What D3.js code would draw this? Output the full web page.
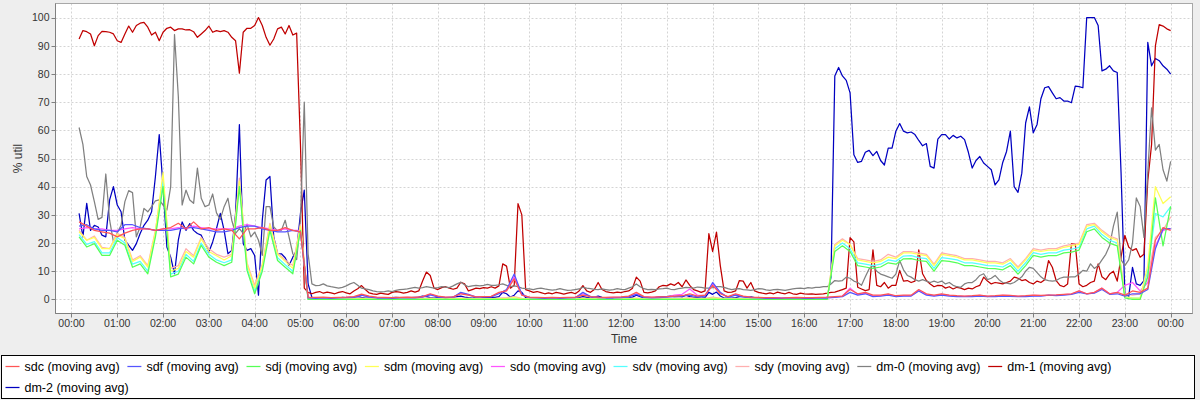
<!DOCTYPE html>
<html>
<head>
<meta charset="utf-8">
<script src="https://cdn.jsdelivr.net/npm/d3@7"></script>
<style>
  body { margin: 0; background: #eeeeee; }
  svg { display: block; }
</style>
</head>
<body>
<svg id="chart" width="1200" height="400"></svg>
<script>
"use strict";

// series names in legend order, JFreeChart default palette
var seriesNames = ["sdc", "sdf", "sdj", "sdm", "sdo", "sdv", "sdy", "dm-0", "dm-1", "dm-2"];
var seriesColors = ["#ff5555", "#5555ff", "#55ff55", "#ffff55", "#ff55ff", "#55ffff", "#ffafaf", "#808080", "#c00000", "#0000c0"];

// first sample at 00:10, sd* every 10 minutes, dm-* every 5 minutes
var START_MINUTE = 10;

var sdc = [
  27.5, 26, 24.5, 24, 23.5, 22.2, 23.5, 24.5, 25, 25, 24.5, 25, 25.5, 27, 25, 27.5, 25, 25.5, 24.5, 25,
  24.5, 21.5, 25, 25, 25.5, 24.5, 24.5, 25.5, 24.5, 24,
  0.8, 0.7, 0.8, 0.6, 0.7, 0.8, 1.0, 1.9, 1.2, 0.8,
  0.7, 0.6, 0.7, 0.8, 0.7, 1.0, 2.0, 1.2, 0.8, 0.9,
  2.0, 1.5, 0.9, 1.0, 1.1, 2.5, 3.0, 7.3, 1.5, 0.8,
  0.7, 0.6, 0.7, 0.6, 0.7, 0.8, 1.5, 1.0, 0.8, 0.7,
  0.8, 0.9, 1.2, 2.5, 1.0, 0.8, 0.9, 1.0, 1.2, 1.3,
  2.0, 1.2, 1.5, 5.0, 2.0, 1.0, 2.0, 1.2, 0.8, 0.7,
  0.6, 0.6, 0.5, 0.6, 0.7, 0.6, 0.6, 0.7,
  0.8, 1.0, 1.2, 3.5, 2.0, 2.5, 1.5, 1.5, 2.0, 1.3,
  1.5, 1.5, 3.5, 2.0, 1.5, 2.0, 1.5, 1.3, 1.2, 1.3,
  1.5, 1.2, 1.3, 1.5, 1.4, 1.2, 1.3, 1.5, 1.4, 1.5,
  1.6, 1.8, 2.0, 3.0, 2.0, 2.5, 4.0, 2.0, 2.5, 1.5,
  3.0, 2.5, 4.0, 21, 25.5, 24.5
];
var sdf = [
  26, 26.5, 25, 24.5, 24.5, 24, 26.5, 26.5, 25.5, 25, 24.5, 24.5, 24.5, 25, 25.5, 25.5, 25, 24.5, 24, 24,
  24.5, 25.5, 26, 26, 25, 24.5, 24, 24, 24.5, 24,
  0.5, 0.4, 0.5, 0.4, 0.5, 0.6, 0.7, 1.5, 0.8, 0.5,
  0.5, 0.4, 0.5, 0.6, 0.5, 0.8, 1.6, 0.9, 0.6, 0.8,
  2.5, 1.8, 0.8, 0.9, 1.0, 2.0, 3.5, 9.0, 1.8, 0.6,
  0.5, 0.4, 0.5, 0.4, 0.5, 0.6, 2.5, 1.0, 0.6, 0.5,
  0.5, 0.6, 0.9, 1.8, 0.7, 0.5, 0.6, 0.8, 1.0, 1.2,
  1.5, 0.9, 1.2, 6.0, 2.5, 0.7, 1.5, 0.9, 0.6, 0.5,
  0.4, 0.4, 0.4, 0.5, 0.5, 0.4, 0.4, 0.5,
  0.5, 0.7, 1.0, 2.5, 1.5, 2.0, 1.0, 1.2, 1.5, 1.0,
  1.2, 1.2, 3.0, 1.5, 1.2, 1.5, 1.2, 1.0, 1.0, 1.0,
  1.2, 1.0, 1.0, 1.2, 1.1, 1.0, 1.0, 1.2, 1.2, 1.5,
  1.3, 1.5, 1.8, 2.5, 2.0, 2.2, 3.5, 1.8, 2.0, 1.2,
  2.0, 2.0, 3.5, 18, 25, 25.1
];
var sdj = [
  22.2, 18.6, 19.8, 15.6, 15.6, 21, 19.2, 11.4, 12.6, 9.1, 22.2, 40, 8, 9, 15, 12.6, 19.2, 15, 13.2, 12,
  13.2, 40, 10.3, 2, 10, 24.5, 13.8, 11.4, 9.1, 24.5,
  0, 0, 0, 0, 0, 0, 0, 0, 0, 0,
  0, 0, 0, 0, 0, 0, 0, 0, 0, 0,
  0, 0, 0, 0, 0, 0, 0, 0, 0, 0,
  0, 0, 0, 0, 0, 0, 0, 0, 0, 0,
  0, 0, 0, 0, 0, 0, 0, 0, 0, 0,
  0, 0, 0, 0, 0, 0, 0, 0, 0, 0,
  0, 0, 0, 0, 0, 0, 0, 0,
  0, 17, 19, 17, 12, 11.5, 11, 11.5, 13, 12.5,
  14.4, 14.5, 13.8, 13.5, 10, 13.8, 13.5, 13, 12, 12,
  11.5, 11, 10.9, 10.5, 12, 9, 12, 15.6, 15, 15.5,
  15.5, 16.5, 16.8, 17.5, 24, 25, 22, 20, 19, 0.5,
  0, 0, 8, 36, 19, 33
];
var sdm = [
  24, 21, 22, 18, 18, 23, 21.5, 13.5, 15, 11.5, 24, 45, 10, 11, 17, 15, 21.5, 17, 15.5, 14,
  15.5, 42, 12.5, 4, 12, 26.5, 16, 13.5, 11, 26,
  0.2, 0.2, 0.2, 0.2, 0.2, 0.2, 0.2, 0.3, 0.2, 0.2,
  0.2, 0.2, 0.2, 0.2, 0.2, 0.2, 0.3, 0.2, 0.2, 0.2,
  0.3, 0.2, 0.2, 0.2, 0.2, 0.3, 0.4, 0.6, 0.2, 0.2,
  0.2, 0.2, 0.2, 0.2, 0.2, 0.2, 0.3, 0.2, 0.2, 0.2,
  0.2, 0.2, 0.2, 0.3, 0.2, 0.2, 0.2, 0.2, 0.2, 0.2,
  0.3, 0.2, 0.2, 0.5, 0.3, 0.2, 0.2, 0.2, 0.2, 0.2,
  0.2, 0.2, 0.2, 0.2, 0.2, 0.2, 0.2, 0.2,
  0, 19, 21, 19.5, 14, 13.5, 13, 13.5, 15, 14.5,
  16.5, 16.5, 16, 15.5, 12, 16, 15.5, 15, 14, 14,
  13.5, 13, 13, 12.5, 14, 11, 14, 17.5, 17, 17.5,
  17.5, 18.5, 19, 19.5, 26, 26.5, 24, 22, 21, 1,
  0.5, 0.5, 12, 40, 34, 36.4
];
var sdo = [
  25, 25.5, 25, 25, 24.5, 24.5, 25, 25.5, 25, 25, 24.5, 25, 25, 25.5, 25, 26, 25.5, 25, 25, 25,
  25, 26, 26.5, 26, 25.5, 25, 24.5, 25, 24.5, 24.5,
  0.6, 0.5, 0.6, 0.5, 0.6, 0.7, 0.9, 1.5, 1.0, 0.6,
  0.6, 0.5, 0.6, 0.7, 0.6, 0.9, 1.8, 1.0, 0.7, 0.8,
  2.2, 1.6, 0.9, 1.0, 1.0, 2.2, 3.2, 8.0, 1.6, 0.7,
  0.6, 0.5, 0.6, 0.5, 0.6, 0.7, 2.0, 1.0, 0.7, 0.6,
  0.7, 0.8, 1.0, 2.0, 0.9, 0.7, 0.8, 0.9, 1.5, 1.8,
  3.7, 1.5, 1.3, 5.5, 2.2, 0.8, 1.8, 1.0, 0.7, 0.6,
  0.5, 0.5, 0.5, 0.6, 0.6, 0.5, 0.5, 0.6,
  0.6, 0.8, 1.2, 4.0, 1.8, 2.2, 1.2, 1.3, 1.8, 1.2,
  1.3, 1.3, 3.2, 1.8, 1.3, 1.8, 1.4, 1.2, 1.1, 1.2,
  1.4, 1.1, 1.2, 1.4, 1.3, 1.1, 1.2, 1.4, 1.3, 1.4,
  1.5, 1.7, 1.9, 3.0, 2.0, 2.4, 4.0, 2.0, 2.5, 5.0,
  6.0, 3.0, 6.0, 19, 24.5, 25
];
var sdv = [
  23, 19.5, 20.5, 16.5, 16.5, 22, 20, 12.5, 13.5, 10, 23, 42, 9, 10, 16, 13.5, 20, 16, 14, 13,
  14, 41, 11.2, 3, 11, 25.5, 14.8, 12.3, 10, 25,
  0.1, 0.1, 0.1, 0.1, 0.1, 0.1, 0.1, 0.2, 0.1, 0.1,
  0.1, 0.1, 0.1, 0.1, 0.1, 0.1, 0.2, 0.1, 0.1, 0.1,
  0.2, 0.1, 0.1, 0.1, 0.1, 0.2, 0.3, 0.5, 0.1, 0.1,
  0.1, 0.1, 0.1, 0.1, 0.1, 0.1, 0.2, 0.1, 0.1, 0.1,
  0.1, 0.1, 0.1, 0.2, 0.1, 0.1, 0.1, 0.1, 0.1, 0.1,
  0.2, 0.1, 0.1, 0.4, 0.2, 0.1, 0.1, 0.1, 0.1, 0.1,
  0.1, 0.1, 0.1, 0.1, 0.1, 0.1, 0.1, 0.1,
  0, 18, 20, 18, 13, 12.5, 12, 12.5, 14, 13.5,
  15.4, 15.5, 14.8, 14.5, 11, 14.8, 14.5, 14, 13, 13,
  12.5, 12, 11.9, 11.5, 13, 10, 13, 16.6, 16, 16.5,
  16.5, 17.5, 17.8, 18.5, 25, 26, 23, 21, 20, 1,
  0.5, 0.5, 10, 30.5, 29.3, 32.9
];
var sdy = [
  24.5, 21, 22.5, 18.5, 18, 23.5, 22, 14, 15.5, 12, 24.5, 43, 11, 12, 18, 15.5, 22, 18, 16, 15,
  16, 43, 13, 5, 12.5, 27, 16.5, 14, 12, 26.5,
  0.3, 0.3, 0.3, 0.3, 0.3, 0.3, 0.4, 0.5, 0.3, 0.3,
  0.3, 0.3, 0.3, 0.3, 0.3, 0.4, 0.5, 0.3, 0.3, 0.3,
  0.5, 0.4, 0.3, 0.3, 0.3, 0.5, 0.6, 1.0, 0.4, 0.3,
  0.3, 0.3, 0.3, 0.3, 0.3, 0.3, 0.5, 0.3, 0.3, 0.3,
  0.3, 0.3, 0.4, 0.5, 0.3, 0.3, 0.3, 0.3, 0.4, 0.4,
  0.6, 0.4, 0.4, 0.8, 0.5, 0.3, 0.4, 0.3, 0.3, 0.3,
  0.3, 0.3, 0.3, 0.3, 0.3, 0.3, 0.3, 0.3,
  0.2, 19.5, 21.5, 19.5, 14.5, 14, 13.5, 14, 16, 15,
  17, 17, 16.5, 16, 12.5, 16.5, 16, 15.5, 14.5, 14.5,
  14, 13.5, 13.5, 13, 14.5, 11.5, 14.5, 18, 17.5, 18,
  18, 19, 19.5, 20, 26.5, 27, 24.5, 22.5, 21.5, 2,
  1.5, 2, 8, 22, 24.5, 29.3
];

var dm0 = [
  61, 55, 43.6, 40.6, 34.7, 28.4, 29.1, 44.5, 28.1, 20.4,
  23.6, 26.3, 34.7, 38.6, 37.9, 22.2, 25.7, 32.3, 31.1, 32.9,
  35, 35.3, 33.5, 31.7, 40, 94, 72, 33.5, 38.8, 35.3,
  34.1, 46.6, 35.9, 32.9, 33.5, 37.4, 30.7, 28.4, 32.9, 35.9,
  28.1, 23.4, 25.1, 23.4, 26.7, 22.2, 23.9, 21, 15.6, 32.9,
  32.9, 25.7, 24.3, 24.5, 28.1, 22.2, 16.2, 14.1, 28.1, 70,
  16.2, 5.5, 4.9,
  5.0, 5.5, 4.8, 4.5, 4.3, 4.0, 4.3, 4.8, 5.5, 6.0,
  5.0, 4.0, 3.7, 3.5, 3.0, 2.8, 2.7, 2.8, 3.0, 2.8,
  3.2, 3.5, 3.6, 3.7, 4.0, 4.3, 4.0, 4.2, 4.5, 4.3,
  4.0, 4.2, 4.5, 4.4, 4.2, 4.8, 5.5, 6.1, 5.2, 4.5,
  4.8, 5.0, 4.8, 5.0, 5.3, 5.0, 5.0, 5.2, 5.5, 5.0,
  4.5, 4.8, 4.5, 4.0, 3.8, 3.7, 3.5, 3.8, 4.0, 3.7,
  3.5, 3.3, 3.5, 3.8, 3.5, 3.2, 3.3, 3.5, 3.7, 4.3,
  4.0, 3.8, 3.6, 3.5, 3.7, 3.5, 3.3, 3.5, 3.8, 3.6,
  3.5, 4.0, 4.5, 5.5, 4.5, 3.8, 3.5, 3.6, 3.5, 3.7,
  3.8, 4.0, 3.6, 3.5, 3.8, 4.0, 4.3, 4.2, 4.0, 4.4,
  4.3, 4.0, 4.0, 4.2, 4.5, 4.5, 4.3, 3.8, 3.5, 3.7,
  3.8, 3.5, 3.4, 3.2, 3.5, 3.8, 3.7, 3.4, 3.2, 3.5,
  3.6, 3.4, 3.2, 3.5, 3.7, 3.9, 4.0, 3.8, 4.2, 4.0,
  4.3, 4.3, 4.5,
  4.5, 5.5, 6.7, 6.5, 6.7, 7.9, 7.5, 6.5, 6.0, 5.0,
  8.0, 10.9, 12, 10, 9, 8.5, 8, 7.5, 9, 13.8,
  10.5, 8.5, 7.9, 7, 6.5, 7, 6.5, 6.0, 6.5, 6.0,
  6.5, 5.5, 6, 5.0, 4.5, 4.3, 5.5, 6.0, 6.0, 7.0,
  8.5, 9.1, 7.0, 7.5, 8.5, 7.0, 6.0, 5.8, 5.5, 6.0,
  7.0, 8.0, 10, 11.4, 11, 9.5, 8, 7, 6.7, 6.5,
  6.7, 7.5, 7.9, 7.9, 8, 8, 9, 10.3, 10, 12.6,
  11, 12, 14, 16, 19, 26, 31, 14, 12, 14,
  20, 36, 33, 22, 45, 68, 53, 55, 46, 42, 49
];
var dm1 = [
  92.4, 95.4, 95, 94.2, 90, 93.6, 95.1, 95, 94.8, 94.2,
  91.8, 91.2, 94.2, 97, 94.8, 97.2, 98, 98.3, 96.6, 93.8,
  94.8, 91.8, 94.8, 96.2, 96.6, 95.4, 96, 96, 95.6, 95.7,
  95, 93, 94.2, 95.4, 97, 94.8, 95.4, 95, 95.4, 94.8,
  93, 91.8, 80.3, 94.8, 96.2, 96.2, 97.2, 100, 97.2, 93,
  90.2, 92.4, 96, 96.6, 94.2, 97.2, 93.8, 94.5, 55,
  4, 2.5, 2.0, 2.5, 2.8, 2.2, 2.6, 2.3, 2.0, 2.5,
  2.8, 2.3, 2.0, 3.0, 3.8, 4.9, 3.5, 2.3, 2.0, 1.8,
  2.2, 2.0, 1.8, 2.5, 2.8, 2.6, 2.2, 2.5, 3.0, 2.6,
  3.0, 6.5, 9.7, 8.5, 4.0, 3.5, 4.2, 4.5, 4.0, 3.6,
  4.0, 6.1, 5.5, 3.0, 3.5, 4.0, 3.8, 4.2, 4.0, 4.5,
  4.0, 4.8, 12.6, 11.8, 4.0, 5.0, 34, 30, 3.5, 3.0,
  2.5, 2.8, 2.4, 2.0, 2.3, 2.0, 2.5, 2.2, 1.9, 2.2,
  2.5, 2.0, 3.0, 4.9, 3.0, 2.5, 3.5, 6.0, 3.5, 2.8,
  2.5, 2.3, 2.6, 2.4, 2.8, 3.0, 4.0, 7.9, 6.5, 2.5,
  2.3, 2.6, 3.0, 4.5, 5.0, 4.8, 5.5, 5.0, 6.0, 4.5,
  6.9, 5.0, 3.5, 3.0, 2.5, 3.0, 23.3, 17, 23.9, 12,
  3.0, 2.5, 2.6, 3.0, 6.7, 6.5, 4.0, 6.0, 3.0, 2.5,
  2.2, 2.0, 2.3, 2.0, 2.6, 2.2, 2.0, 2.5, 2.0, 1.8,
  2.2, 2.0, 1.9, 2.0, 1.8, 1.9, 2.0, 2.2, 2.5, 2.6,
  3.0, 3.5, 4.0, 21.9, 20.4, 4.3, 3.7, 3.1, 3.5, 17.6,
  5, 4.5, 6, 4, 5, 5, 10.3, 6.5, 6.7, 6.0,
  6.5, 17.6, 9.1, 6.7, 5.5, 4.5, 5.0, 4.9, 4.0, 4.5,
  3.7, 4.3, 4.0, 3.5, 4.0, 3.7, 4.5, 5.0, 7.9, 6.5,
  5.5, 6.0, 5.8, 5.5, 6.0, 6.5, 7.9, 7.5, 6.7, 7.0,
  6.0, 5.5, 6.5, 6.0, 7.0, 13.8, 11.4, 6.7, 5.0, 4.5,
  5.5, 19.8, 19.8, 5.5, 4.5, 5.0, 6.0, 6.5, 12.6, 8,
  7, 9, 10, 6.5, 15, 22.7, 18.6, 17.4, 18, 15,
  16, 42, 55, 90, 97.5, 97, 96, 95.4
];
var dm2 = [
  30.5, 22.2, 34.1, 24.5, 26.3, 25.7, 22.8, 22.2, 35.3, 40,
  33.5, 31.1, 21, 19.2, 17.4, 19.8, 23.4, 26.3, 28.1, 31.1,
  43.6, 58.5, 40, 18.6, 15, 9.1, 21, 27.5, 24.5, 26.9,
  24.5, 23.4, 22.8, 19.8, 16.8, 20.4, 25.1, 30.5, 24.5, 16.2,
  17.4, 30.5, 62, 19.8, 17.4, 18, 15.6, 1.5, 28.1, 42.4,
  43.6, 22.2, 16.2, 16.2, 14.8, 12, 15, 17.4, 30.5, 38.8,
  5.5, 0.7,
  0.5, 0.6, 0.5, 0.4, 0.6, 0.5, 0.5, 0.7, 0.6, 0.5,
  0.8, 1.0, 0.7, 0.5, 0.5, 0.4, 0.5, 0.6, 0.5, 0.5,
  0.6, 0.7, 0.6, 0.5, 0.5, 0.6, 0.7, 0.8, 1.2, 1.0,
  0.6, 0.5, 0.6, 0.7, 0.6, 0.5, 0.8, 1.0, 1.2, 0.8,
  0.6, 0.5, 0.6, 0.5, 0.7, 0.6, 0.8, 0.7, 1.0, 2.5,
  2.0, 0.8, 1.5, 3.0, 2.5, 0.6, 0.5, 0.4, 0.5, 0.4,
  0.4, 0.5, 0.4, 0.5, 0.4, 0.4, 0.5, 0.5, 0.4, 0.6,
  1.0, 0.7, 0.5, 0.8, 1.2, 0.7, 0.5, 0.5, 0.4, 0.5,
  0.5, 0.5, 0.6, 0.8, 1.5, 1.0, 0.5, 0.5, 0.6, 0.7,
  0.9, 1.0, 1.0, 1.2, 1.0, 1.1, 0.9, 1.5, 1.0, 0.7,
  0.6, 0.5, 0.6, 2.5, 1.8, 2.6, 1.2, 0.5, 0.5, 0.5,
  0.6, 1.0, 1.0, 0.7, 0.9, 0.6, 0.5, 0.4, 0.4, 0.5,
  0.4, 0.5, 0.4, 0.4, 0.5, 0.4, 0.4, 0.5, 0.4, 0.4,
  0.5, 0.4, 0.4, 0.5, 0.5,
  8,
  79.3, 82.3, 79.3, 77.7, 73.3, 51.3, 48.6, 49, 52.2, 52.9,
  51, 52.5, 49.3, 47.7, 53.7, 53.7, 59.7, 62.4, 59.7, 59.1,
  59.4, 58.5, 56.4, 54.5, 55.3, 47.2, 46.6, 56.9, 58.5, 58.5,
  56.9, 58.2, 57.3, 57.9, 56.7, 52.2, 46.6, 49.3, 50.7, 48.4,
  47.2, 46, 40.6, 42.4, 48.6, 52.5, 59.7, 40, 38, 44.8,
  62.6, 68.3, 59.1, 62.1, 71.2, 75.1, 75.5, 73.3, 71.2, 71.6,
  70.4, 70.4, 69.8, 75.7, 75.5, 75.1, 100, 100, 100, 97.2,
  81.1, 81.7, 82.9, 81.1, 80.5, 45, 2, 1, 11.4, 5.5,
  5, 6.7, 91.2, 82.9, 85.5, 84.7, 82.9, 81.7, 79.9
];

var seriesValues = [sdc, sdf, sdj, sdm, sdo, sdv, sdy, dm0, dm1, dm2];
var seriesStepMinutes = [10, 10, 10, 10, 10, 10, 10, 5, 5, 5];
var yTickValues = [0, 10, 20, 30, 40, 50, 60, 70, 80, 90, 100];

var WIDTH = 1200;
var PLOT = { left: 55.5, right: 1192.5, top: 3.5, bottom: 313.5 };
var DAY = Date.UTC(2000, 0, 1);
var MINUTE = 60000;

var svg = d3.select("#chart");

svg.append("rect").attr("width", WIDTH).attr("height", 400).attr("fill", "#eeeeee");

var x = d3.scaleUtc()
  .domain([new Date(DAY - 20.9 * MINUTE), new Date(DAY + 1468.6 * MINUTE)])
  .range([PLOT.left, PLOT.right]);
var y = d3.scaleLinear().domain([-5, 105]).range([PLOT.bottom, PLOT.top]);

var hourTicks = d3.utcHour.range(new Date(DAY), new Date(DAY + 1441 * MINUTE));
var timeFormat = d3.utcFormat("%H:%M");

svg.append("rect")
  .attr("x", PLOT.left).attr("y", PLOT.top)
  .attr("width", PLOT.right - PLOT.left).attr("height", PLOT.bottom - PLOT.top)
  .attr("fill", "#ffffff");

svg.append("clipPath").attr("id", "plot-clip")
  .append("rect")
  .attr("x", PLOT.left).attr("y", PLOT.top)
  .attr("width", PLOT.right - PLOT.left).attr("height", PLOT.bottom - PLOT.top);

// grid
var grid = svg.append("g").attr("stroke", "#d4d4d4").attr("stroke-dasharray", "2,2").attr("stroke-width", 1);
grid.selectAll("line.h").data(yTickValues).enter().append("line")
  .attr("x1", PLOT.left).attr("x2", PLOT.right)
  .attr("y1", function (d) { return Math.round(y(d)) + 0.5; })
  .attr("y2", function (d) { return Math.round(y(d)) + 0.5; });
grid.selectAll("line.v").data(hourTicks).enter().append("line")
  .attr("y1", PLOT.top).attr("y2", PLOT.bottom)
  .attr("x1", function (d) { return Math.round(x(d)) + 0.5; })
  .attr("x2", function (d) { return Math.round(x(d)) + 0.5; });

// series, drawn in reverse so the first series ends up on top
var line = d3.line()
  .x(function (d) { return x(d[0]); })
  .y(function (d) { return y(d[1]); });

var lines = svg.append("g").attr("clip-path", "url(#plot-clip)");
d3.range(seriesNames.length - 1, -1, -1).forEach(function (i) {
  var step = seriesStepMinutes[i];
  var points = seriesValues[i].map(function (v, k) {
    return [new Date(DAY + (START_MINUTE + k * step) * MINUTE), v];
  });
  lines.append("path")
    .datum(points)
    .attr("fill", "none")
    .attr("stroke", seriesColors[i])
    .attr("stroke-width", 1.25)
    .attr("stroke-linejoin", "round")
    .attr("d", line);
});

// plot outline
svg.append("rect")
  .attr("x", PLOT.left).attr("y", PLOT.top)
  .attr("width", PLOT.right - PLOT.left).attr("height", PLOT.bottom - PLOT.top)
  .attr("fill", "none").attr("stroke", "#a8a8a8");
svg.append("line").attr("x1", PLOT.left).attr("x2", PLOT.left)
  .attr("y1", PLOT.top).attr("y2", PLOT.bottom).attr("stroke", "#808080");
svg.append("line").attr("x1", PLOT.left).attr("x2", PLOT.right)
  .attr("y1", PLOT.bottom).attr("y2", PLOT.bottom).attr("stroke", "#808080");

// axes
var tickFont = "'Liberation Sans', Arial, sans-serif";
var yAxis = svg.append("g");
yAxis.selectAll("line").data(yTickValues).enter().append("line")
  .attr("x1", PLOT.left - 4).attr("x2", PLOT.left)
  .attr("y1", function (d) { return Math.round(y(d)) + 0.5; })
  .attr("y2", function (d) { return Math.round(y(d)) + 0.5; })
  .attr("stroke", "#808080");
yAxis.selectAll("text").data(yTickValues).enter().append("text")
  .attr("x", PLOT.left - 6)
  .attr("y", function (d) { return y(d) + 3.8; })
  .attr("text-anchor", "end")
  .attr("font-family", tickFont).attr("font-size", "10.5px").attr("fill", "#333333")
  .text(function (d) { return d; });

var xAxis = svg.append("g");
xAxis.selectAll("line").data(hourTicks).enter().append("line")
  .attr("x1", function (d) { return Math.round(x(d)) + 0.5; })
  .attr("x2", function (d) { return Math.round(x(d)) + 0.5; })
  .attr("y1", PLOT.bottom).attr("y2", PLOT.bottom + 4)
  .attr("stroke", "#808080");
xAxis.selectAll("text").data(hourTicks).enter().append("text")
  .attr("x", function (d) { return x(d); })
  .attr("y", PLOT.bottom + 13.5)
  .attr("text-anchor", "middle")
  .attr("font-family", tickFont).attr("font-size", "10.5px").attr("fill", "#333333")
  .text(function (d) { return timeFormat(d); });

svg.append("text")
  .attr("x", (PLOT.left + PLOT.right) / 2).attr("y", 343)
  .attr("text-anchor", "middle")
  .attr("font-family", tickFont).attr("font-size", "12px").attr("fill", "#333333")
  .text("Time");
svg.append("text")
  .attr("transform", "translate(22," + ((PLOT.top + PLOT.bottom) / 2) + ") rotate(-90)")
  .attr("text-anchor", "middle")
  .attr("font-family", tickFont).attr("font-size", "12px").attr("fill", "#333333")
  .text("% util");

// legend
svg.append("rect")
  .attr("x", 1.5).attr("y", 355.5).attr("width", 1193).attr("height", 43)
  .attr("fill", "#ffffff").attr("stroke", "#000000");

var legend = svg.append("g");
var rowY = [366.5, 387.5];
var lx = 5.5, row = 0;
seriesNames.forEach(function (name, i) {
  var item = legend.append("g");
  var label = item.append("text")
    .attr("font-family", tickFont).attr("font-size", "12.5px").attr("fill", "#000000")
    .text(name + " (moving avg)");
  var w = label.node().getComputedTextLength();
  if (lx + 19 + w > 1190) { row += 1; lx = 5.5; }
  label.attr("x", lx + 19).attr("y", rowY[row] + 4.5);
  item.append("line")
    .attr("x1", lx).attr("x2", lx + 14)
    .attr("y1", rowY[row]).attr("y2", rowY[row])
    .attr("stroke", seriesColors[i]).attr("stroke-width", 1.25);
  lx = lx + 19 + w + 7.7;
});
</script>
</body>
</html>
